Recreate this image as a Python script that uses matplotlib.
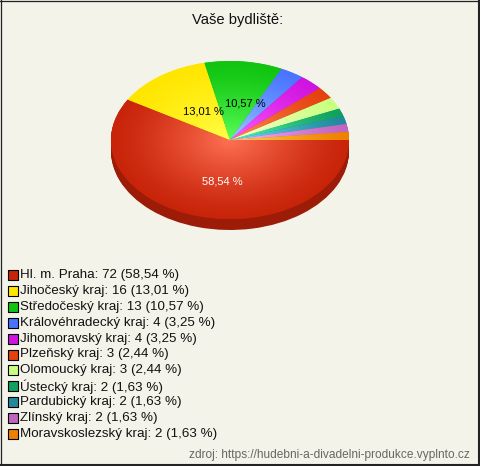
import numpy as np
import matplotlib.pyplot as plt
from matplotlib.colors import to_rgb
from matplotlib.lines import Line2D

regions = ['Hl. m. Praha', 'Jihočeský kraj', 'Středočeský kraj', 'Královéhradecký kraj',
           'Jihomoravský kraj', 'Plzeňský kraj', 'Olomoucký kraj', 'Ústecký kraj',
           'Pardubický kraj', 'Zlínský kraj', 'Moravskoslezský kraj']
counts = [72, 16, 13, 4, 4, 3, 3, 2, 2, 2, 2]
percents = ['58,54', '13,01', '10,57', '3,25', '3,25', '2,44', '2,44', '1,63', '1,63', '1,63', '1,63']
colors = ['#c8240a', '#ffe600', '#10c410', '#4a74ff', '#d014e0', '#e6400e',
          '#c8ff80', '#10a060', '#208a9c', '#c064c0', '#f08000']
pie_labels = {0: 'white', 1: 'black', 2: 'black'}

W, H = 480, 466
bg = '#f4f3ea'
fig = plt.figure(figsize=(W / 100, H / 100), dpi=100, facecolor=bg)

# overlay axes in pixel units for texts and legend
ov = fig.add_axes([0, 0, 1, 1])
ov.set_xlim(0, W)
ov.set_ylim(H, 0)
ov.axis('off')

# pie axes: top face spans x 111..349, y 61..219, side depth ~11px
rx, ry, depth_px = 119, 79, 11
cx, cy = 230, 140
depth = depth_px / ry
ax = fig.add_axes([(cx - rx) / W, (H - (cy + ry + depth_px)) / H,
                   2 * rx / W, (2 * ry + depth_px) / H])

def shade(c, f):
    r, g, b = to_rgb(c)
    return (r * f, g * f, b * f)

dark = [shade(c, 0.78) for c in colors]
for d in np.linspace(depth, 0.01, 14):
    ax.pie(counts, colors=dark, startangle=0, counterclock=False, center=(0, -d),
           wedgeprops=dict(linewidth=0))

wedges, _ = ax.pie(counts, colors=colors, startangle=0, counterclock=False,
                   wedgeprops=dict(linewidth=0))

# radial gradient on the top face: lighter at centre
n = 300
xx, yy = np.meshgrid(np.linspace(-1, 1, n), np.linspace(-1, 1, n))
rr = np.clip(np.sqrt(xx ** 2 + yy ** 2), 0, 1)
for w, c in zip(wedges, colors):
    base = np.array(to_rgb(c))
    light = np.clip(base * 1.15 + 0.28, 0, 1)
    t = (1 - rr)[..., None] ** 1.3
    img = base * (1 - t) + light * t
    im = ax.imshow(img, extent=(-1, 1, -1, 1), origin='lower', aspect='auto',
                   zorder=2, interpolation='bilinear')
    im.set_clip_path(w)

# percent labels
cum = np.cumsum([0] + counts)
total = sum(counts)
for i, col in pie_labels.items():
    mid = -np.deg2rad((cum[i] + cum[i + 1]) / 2 / total * 360)
    ax.text(0.5 * np.cos(mid) + 0.07, 0.5 * np.sin(mid) - 0.04, percents[i] + ' %',
            color=col, ha='center', va='center', fontsize=8, family='Liberation Sans',
            zorder=3)

ax.set_xlim(-1, 1)
ax.set_ylim(-1 - depth, 1)
ax.set_aspect('auto')
ax.axis('off')

ov.text(238, 20, 'Vaše bydliště:', ha='center', va='center', fontsize=10.6,
        family='Liberation Sans', color='#111111')

# legend
y0, step = 275, 15.9
for i, (name, cnt, p, c) in enumerate(zip(regions, counts, percents, colors)):
    y = y0 + i * step
    ov.scatter([12.5], [y], marker='s', s=50, color=c, edgecolors='black', linewidths=0.8)
    ov.text(20, y, f'{name}: {cnt} ({p} %)', ha='left', va='center', fontsize=9.6,
            family='Liberation Sans', color='#111111')

ov.text(470, 455, 'zdroj: https://hudebni-a-divadelni-produkce.vyplnto.cz', ha='right',
        va='center', fontsize=8.6, family='Liberation Sans', color='#666666')

# frame
fig.add_artist(Line2D([0.5 / W, 0.5 / W], [0, 1], color='#222222', lw=0.9))
fig.add_artist(Line2D([0, 1], [1 - 0.5 / H, 1 - 0.5 / H], color='#222222', lw=0.9))
fig.add_artist(Line2D([1 - 1 / W, 1 - 1 / W], [0, 1], color='#222222', lw=1.5))
fig.add_artist(Line2D([0, 1], [1 / H, 1 / H], color='#222222', lw=1.5))

fig.savefig('out.png', dpi=100, facecolor=bg)
